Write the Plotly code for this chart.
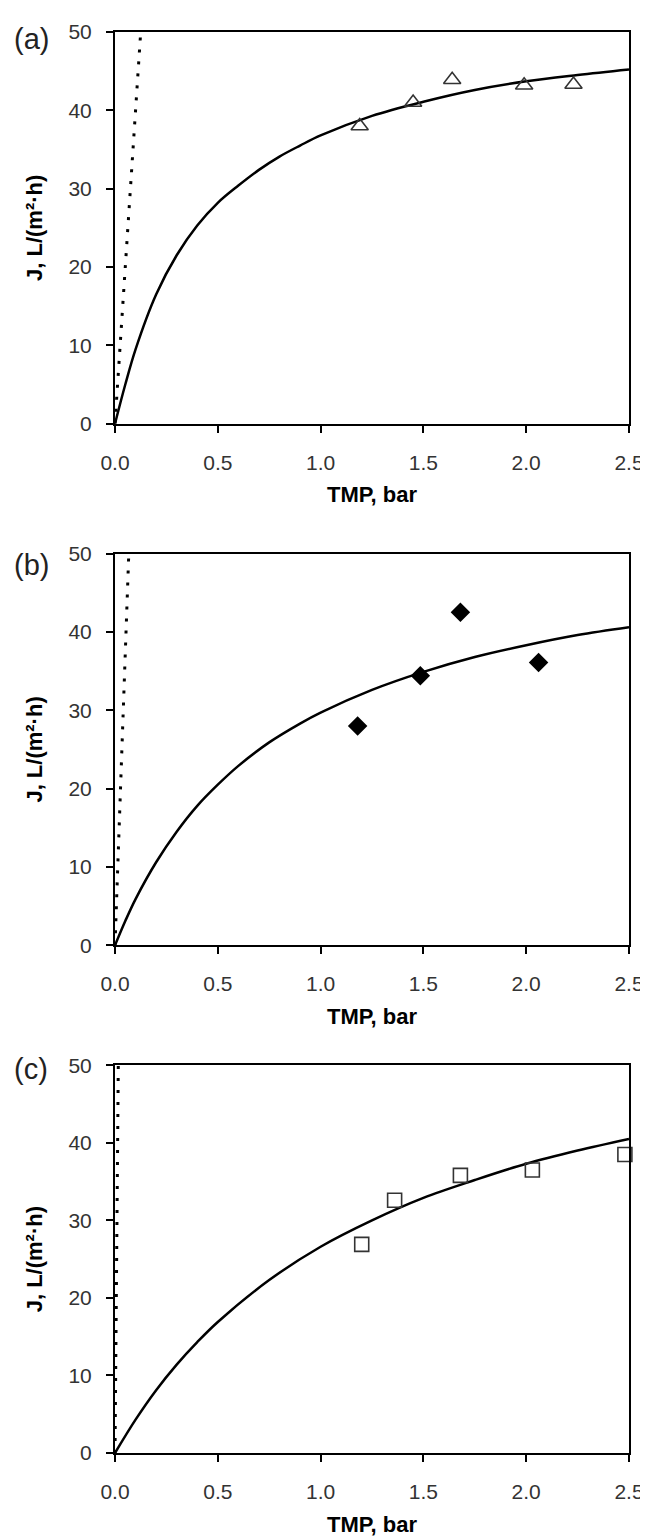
import plotly.graph_objects as go

# ---------------- data ----------------
# panel (a)
a_tmp = [1.19, 1.45, 1.64, 1.99, 2.23]
a_flux = [38.0, 41.0, 43.9, 43.2, 43.3]
a_fit_tmp = [0.0, 0.05, 0.1, 0.2, 0.3, 0.4, 0.5, 0.6, 0.7, 0.8, 0.9, 1.0, 1.25, 1.5, 1.75, 2.0, 2.25, 2.5]
a_fit_flux = [0.0, 5.0, 9.5, 16.5, 21.5, 25.3, 28.2, 30.4, 32.4, 34.1, 35.5, 36.8, 39.3, 41.1, 42.6, 43.7, 44.5, 45.2]
a_pure_tmp = [0.0, 0.125]
a_pure_flux = [0.0, 50.0]

# panel (b)
b_tmp = [1.18, 1.485, 1.68, 2.06]
b_flux = [28.0, 34.4, 42.5, 36.1]
b_fit_tmp = [0.0, 0.05, 0.1, 0.2, 0.3, 0.4, 0.5, 0.6, 0.75, 0.9, 1.0, 1.25, 1.5, 1.75, 2.0, 2.25, 2.5]
b_fit_flux = [0.0, 3.1, 5.9, 10.6, 14.5, 17.8, 20.5, 22.9, 25.9, 28.3, 29.7, 32.6, 34.9, 36.8, 38.3, 39.6, 40.6]
b_pure_tmp = [0.0, 0.067]
b_pure_flux = [0.0, 50.0]

# panel (c)
c_tmp = [1.20, 1.36, 1.68, 2.03, 2.48]
c_flux = [26.9, 32.6, 35.8, 36.5, 38.5]
c_fit_tmp = [0.0, 0.1, 0.2, 0.3, 0.4, 0.5, 0.75, 1.0, 1.25, 1.5, 1.75, 2.0, 2.25, 2.5]
c_fit_flux = [0.0, 4.3, 8.1, 11.4, 14.3, 16.9, 22.3, 26.6, 30.0, 32.9, 35.2, 37.3, 39.0, 40.5]
c_pure_tmp = [0.0, 0.016]
c_pure_flux = [0.0, 50.0]

x_ticks = [0.0, 0.5, 1.0, 1.5, 2.0, 2.5]
y_ticks = [0, 10, 20, 30, 40, 50]
panel_labels = ["(a)", "(b)", "(c)"]
x_title = "TMP, bar"
y_title = "J, L/(m²·h)"

# ---------------- layout geometry (pixels) ----------------
W, H = 648, 1537
ML, MR, MT, MB = 107, 20, 15, 89
panel_px = [(15, 410), (541, 936), (1057, 1448)]   # (top, bottom) of each plot box
label_px = [(3, 22), (3, 552), (3, 1061)]          # (left, centre-y) of panel letters
ph = H - MT - MB
pw = W - ML - MR


def ydom(top, bot):
    return [1 - (bot - MT) / ph, 1 - (top - MT) / ph]


FONT = "Liberation Sans, Arial, sans-serif"

fig = go.Figure()

panels = [
    (a_tmp, a_flux, a_fit_tmp, a_fit_flux, a_pure_tmp, a_pure_flux,
     dict(symbol="triangle-up-open", size=15, color="#333333", line=dict(width=1.6, color="#333333"))),
    (b_tmp, b_flux, b_fit_tmp, b_fit_flux, b_pure_tmp, b_pure_flux,
     dict(symbol="diamond", size=15, color="black", line=dict(width=0))),
    (c_tmp, c_flux, c_fit_tmp, c_fit_flux, c_pure_tmp, c_pure_flux,
     dict(symbol="square-open", size=14, color="#333333", line=dict(width=1.6, color="#333333"))),
]

for i, (xt, yt, fx, fy, px_, py_, mk) in enumerate(panels):
    n = "" if i == 0 else str(i + 1)
    xa, ya = "x" + n, "y" + n
    fig.add_trace(go.Scatter(x=px_, y=py_, mode="lines", xaxis=xa, yaxis=ya,
                             line=dict(color="black", width=3, dash="3px,9px"),
                             showlegend=False, hoverinfo="skip"))
    fig.add_trace(go.Scatter(x=fx, y=fy, mode="lines", xaxis=xa, yaxis=ya,
                             line=dict(color="black", width=2.5, shape="spline", smoothing=1.0),
                             showlegend=False))
    fig.add_trace(go.Scatter(x=xt, y=yt, mode="markers", xaxis=xa, yaxis=ya,
                             marker=mk, showlegend=False, cliponaxis=False))

    top, bot = panel_px[i]
    axis_common = dict(showline=True, linecolor="black", linewidth=2, mirror=True,
                       ticks="outside", ticklen=7, tickwidth=2, tickcolor="black",
                       showgrid=False, zeroline=False,
                       tickfont=dict(family=FONT, size=21, color="#333333"))
    fig.update_layout(**{
        "xaxis" + n: dict(domain=[0, 1], range=[0, 2.5], tickvals=x_ticks,
                          ticktext=[f"{v:.1f}" for v in x_ticks], anchor=ya,
                          ticklabelstandoff=12,
                          title=dict(text=x_title, standoff=14,
                                     font=dict(family=FONT, size=22, color="black", weight="bold")),
                          **axis_common),
        "yaxis" + n: dict(domain=ydom(top, bot), range=[0, 50], tickvals=y_ticks, anchor=xa,
                          ticklabelstandoff=10,
                          title=dict(text=y_title, standoff=20,
                                     font=dict(family=FONT, size=22, color="black", weight="bold")),
                          **axis_common),
    })
    lx, ly = label_px[i]
    fig.add_annotation(text=panel_labels[i], xref="paper", yref="paper",
                       x=(lx - ML) / pw, y=1 - (ly - MT) / ph,
                       xanchor="left", yanchor="middle", showarrow=False,
                       font=dict(family=FONT, size=29, color="#222222"))

fig.update_layout(width=W, height=H, margin=dict(l=ML, r=MR, t=MT, b=MB),
                  paper_bgcolor="white", plot_bgcolor="white")

fig.write_html("out.html")
